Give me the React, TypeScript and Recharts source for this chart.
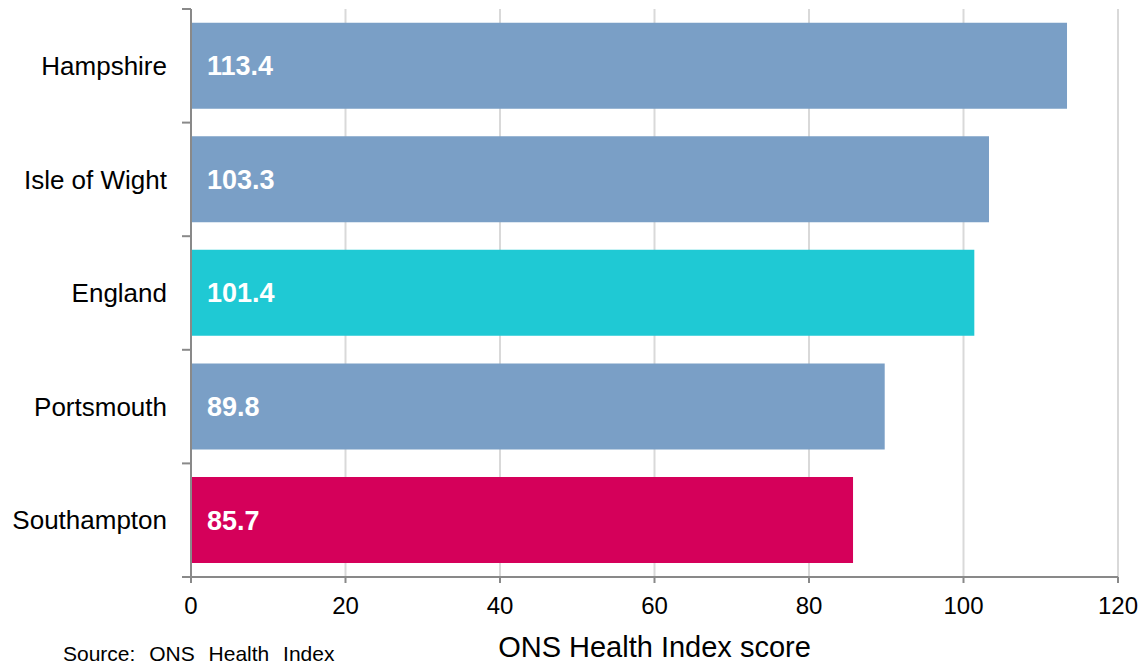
import { BarChart, Bar, XAxis, YAxis, CartesianGrid, Cell, LabelList } from 'recharts'

const areas = ['Hampshire', 'Isle of Wight', 'England', 'Portsmouth', 'Southampton']
const scores = [113.4, 103.3, 101.4, 89.8, 85.7]
const xTicks = [0, 20, 40, 60, 80, 100, 120]

const barColors = ['#7A9FC6', '#7A9FC6', '#1FC9D4', '#7A9FC6', '#D5005A']

const data = areas.map((area, i) => ({ area, score: scores[i] }))

const font = '"Liberation Sans", Arial, sans-serif'
const axisColor = '#898989'
const labelGap = 24
const edgeTick = 9

// category label plus a tick mark at the top edge of each band (and the bottom of the last one)
function AreaTick(props: any) {
  const { x, y, payload, index, visibleTicksCount } = props
  const half = payload?.offset ?? 0
  const ax = x + labelGap
  return (
    <g>
      <line x1={ax - edgeTick} x2={ax} y1={y - half} y2={y - half} stroke={axisColor} strokeWidth={2} />
      {index === visibleTicksCount - 1 && (
        <line x1={ax - edgeTick} x2={ax} y1={y + half} y2={y + half} stroke={axisColor} strokeWidth={2} />
      )}
      <text x={x} y={y} dy="0.355em" textAnchor="end" fill="#000" fontSize={26} fontFamily={font}>
        {payload.value}
      </text>
    </g>
  )
}

export default function App() {
  return (
    <div style={{ position: 'absolute', left: 0, top: 0, width: 1145, height: 663, background: '#fff', fontFamily: font }}>
      <BarChart
        width={1145}
        height={663}
        data={data}
        layout="vertical"
        margin={{ top: 9, right: 27, bottom: 0, left: 0 }}
        barCategoryGap="12%"
      >
        <CartesianGrid horizontal={false} stroke="#D9D9D9" strokeWidth={2} />
        <XAxis
          type="number"
          domain={[0, 120]}
          ticks={xTicks}
          height={86}
          tickSize={6}
          tickMargin={14}
          stroke={axisColor}
          strokeWidth={2}
          tick={{ fill: '#000', fontSize: 24, fontFamily: font }}
          label={{ value: 'ONS Health Index score', position: 'insideBottom', offset: 6, fill: '#000', fontSize: 29, fontFamily: font }}
        />
        <YAxis
          type="category"
          dataKey="area"
          width={191}
          stroke={axisColor}
          strokeWidth={2}
          tickLine={false}
          tickSize={0}
          tickMargin={labelGap}
          tick={<AreaTick />}
        />
        <Bar dataKey="score" isAnimationActive={false}>
          {data.map((d, i) => (
            <Cell key={d.area} fill={barColors[i]} />
          ))}
          <LabelList
            dataKey="score"
            position="insideLeft"
            offset={16}
            fill="#fff"
            fontSize={27}
            fontWeight="bold"
            fontFamily={font}
            formatter={(v: number) => v.toFixed(1)}
          />
        </Bar>
      </BarChart>
      <div style={{ position: 'absolute', left: 63, top: 642, fontSize: 21, color: '#000', wordSpacing: 8 }}>
        Source: ONS Health Index
      </div>
    </div>
  )
}
